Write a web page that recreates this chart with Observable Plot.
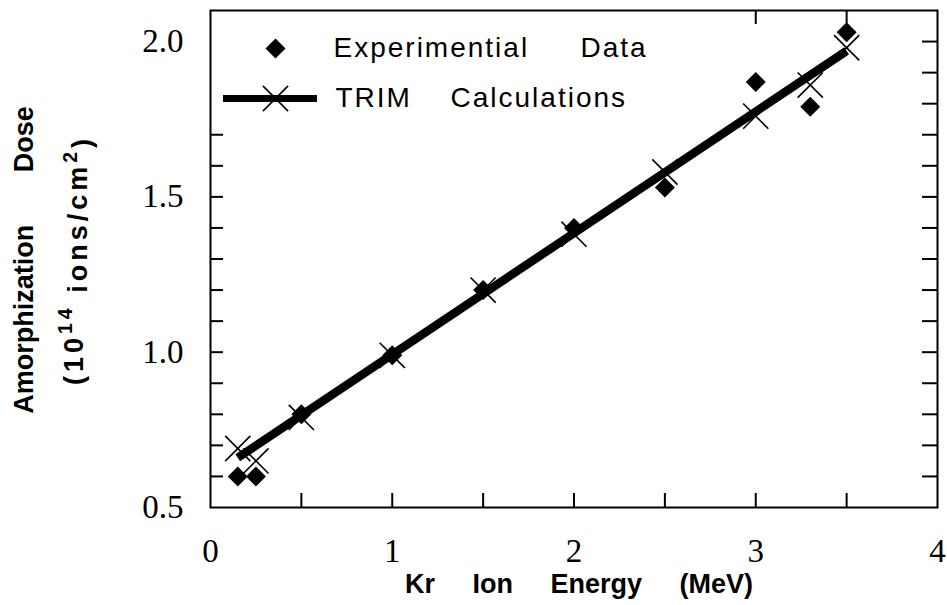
<!DOCTYPE html>
<html><head><meta charset="utf-8">
<script src="https://cdn.jsdelivr.net/npm/d3@7"></script>
<script src="https://cdn.jsdelivr.net/npm/@observablehq/plot@0.6"></script>
<style>body{margin:0;background:#fff;} #chart{width:947px;height:605px;}</style>
</head><body><div id="chart"></div>
<script>
// Experimental data (diamonds)
const expEnergy = [0.15, 0.25, 0.5, 1.0, 1.5, 2.0, 2.5, 3.0, 3.3, 3.5];
const expDose   = [0.60, 0.60, 0.80, 0.99, 1.20, 1.40, 1.53, 1.87, 1.79, 2.03];
// TRIM calculations (crosses)
const trimEnergy = [0.15, 0.25, 0.5, 1.0, 1.5, 2.0, 2.5, 3.0, 3.3, 3.5];
const trimDose   = [0.69, 0.65, 0.79, 0.99, 1.20, 1.38, 1.58, 1.76, 1.86, 1.98];
// TRIM fit line
const lineEnergy = [0.15, 3.5];
const lineDose   = [0.66, 1.97];
// ticks
const xLabelTicks = [0, 1, 2, 3, 4];
const xMinorTicks = [0.5, 1, 1.5, 2, 2.5, 3, 3.5];
const xTopTicks = [3, 3.5];
const yLabelTicks = [0.5, 1.0, 1.5, 2.0];
const yLeftTicks = [0.6, 0.7, 0.8, 0.9, 1.0, 1.1, 1.2, 1.3, 1.4, 1.5, 1.6, 1.7];
const yRightTicks = [0.6, 0.7, 0.8, 0.9, 1.0, 1.1, 1.2, 1.3, 1.4, 1.5, 1.6, 1.7, 1.8, 1.9, 2.0];
const xDomain = [0, 4];
const yDomain = [0.5, 2.1];
const legendLabels = ["Experimential", "Data", "TRIM", "Calculations"];
const xTitle = "Kr     Ion     Energy     (MeV)";
const yTitle1 = "Amorphization       Dose";
const yTitle2 = "(10^14 ions/cm^2)";

const W = 947, H = 605, mL = 210, mR = 10, mT = 10, mB = 98;
const pw = W - mL - mR, ph = H - mT - mB;
const nb = s => s.replace(/ /g, "\u00a0");
const serif = "'Liberation Serif', 'Times New Roman', serif";
const sans = "'Liberation Sans', Arial, Helvetica, sans-serif";

const expData = expEnergy.map((x, i) => ({x, y: expDose[i]}));
const trimData = trimEnergy.map((x, i) => ({x, y: trimDose[i]}));
const lineData = lineEnergy.map((x, i) => ({x, y: lineDose[i]}));

const legendText = (label, dx, dy) => Plot.text([label], {frameAnchor: "top-left", dx, dy, textAnchor: "start", lineAnchor: "middle", fontSize: 28, fontFamily: sans});

const chart = Plot.plot({
  width: W, height: H,
  marginLeft: mL, marginRight: mR, marginTop: mT, marginBottom: mB,
  x: {domain: xDomain},
  y: {domain: yDomain},
  style: {background: "white", color: "black", overflow: "visible"},
  marks: [
    Plot.axisY(yLabelTicks, {tickSize: 0, tickPadding: 27, tickFormat: d3.format(".1f"), fontSize: 33, fontFamily: serif, label: null}),
    Plot.axisX(xLabelTicks, {tickSize: 0, tickPadding: 31, tickFormat: d3.format("d"), fontSize: 33, fontFamily: serif, label: null}),
    Plot.tickY(yLeftTicks, {y: d => d, insetRight: pw - 13, strokeWidth: 2, stroke: "black"}),
    Plot.tickY(yRightTicks, {y: d => d, insetLeft: pw - 15, strokeWidth: 2, stroke: "black"}),
    Plot.tickX(xMinorTicks, {x: d => d, insetTop: ph - 14, strokeWidth: 2, stroke: "black"}),
    Plot.tickX(xTopTicks, {x: d => d, insetBottom: ph - 14, strokeWidth: 2, stroke: "black"}),
    Plot.frame({stroke: "black", strokeWidth: 2}),
    Plot.line(lineData, {x: "x", y: "y", stroke: "black", strokeWidth: 8.5, strokeLinecap: "butt"}),
    Plot.dot(trimData, {x: "x", y: "y", symbol: "times", r: 11.5, stroke: "black", strokeWidth: 1.6}),
    Plot.dot(expData, {x: "x", y: "y", symbol: "diamond2", r: 9, fill: "black", stroke: "none"}),
    // legend
    Plot.dot([0], {frameAnchor: "top-left", dx: 65, dy: 38, symbol: "diamond2", r: 9, fill: "black"}),
    Plot.tickY([yDomain[1]], {y: d => d, dy: 88, insetLeft: 13, insetRight: pw - 107, strokeWidth: 7, stroke: "black"}),
    Plot.dot([0], {frameAnchor: "top-left", dx: 65, dy: 88, symbol: "times", r: 11.5, stroke: "black", strokeWidth: 1.6}),
    legendText(legendLabels[0], 123, 38),
    legendText(legendLabels[1], 370, 38),
    legendText(legendLabels[2], 125, 88),
    legendText(legendLabels[3], 240, 88),
    // axis titles
    Plot.text([nb(xTitle)], {frameAnchor: "bottom", dx: 5, dy: 77, textAnchor: "middle", lineAnchor: "middle", fontSize: 27, fontWeight: "bold", fontFamily: sans}),
    Plot.text([nb(yTitle1)], {frameAnchor: "left", dx: -186, dy: 1, rotate: -90, textAnchor: "middle", lineAnchor: "middle", fontSize: 27, fontWeight: "bold", fontFamily: sans}),
    Plot.text([nb(yTitle2)], {frameAnchor: "left", dx: -136, dy: 1, rotate: -90, textAnchor: "middle", lineAnchor: "middle", fontSize: 27, fontWeight: "bold", fontFamily: sans})
  ]
});

const svg = d3.select(chart);
// legend letter spacing
svg.selectAll("text").filter(function() { return legendLabels.includes(this.textContent); })
  .attr("letter-spacing", "2px");
// superscripts in the y title
svg.selectAll("text").filter(function() { return this.textContent.includes("^"); }).each(function() {
  const t = d3.select(this);
  t.text(null).attr("letter-spacing", "4px");
  t.append("tspan").text("(10");
  t.append("tspan").attr("dy", "-0.55em").attr("font-size", "0.72em").text("14");
  t.append("tspan").attr("dy", "0.55em").text("\u00a0ions/cm");
  t.append("tspan").attr("dy", "-0.55em").attr("font-size", "0.72em").text("2");
  t.append("tspan").attr("dy", "0.55em").text(")");
});

document.getElementById("chart").appendChild(chart);
</script>
</body></html>
